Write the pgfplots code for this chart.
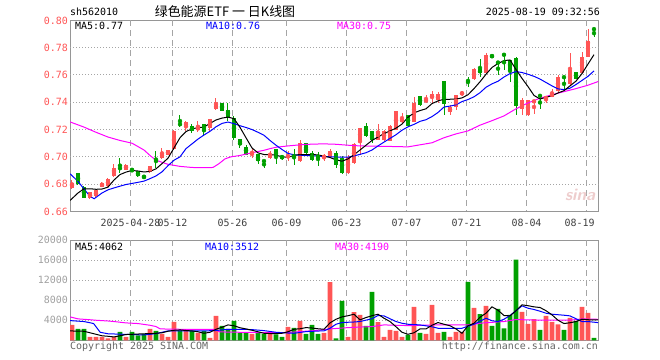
\documentclass[border=0pt]{standalone}
\usepackage{fontspec}
\setmainfont{DejaVu Sans}
\setmonofont{DejaVu Sans Mono}
\newfontfamily\cjk{Noto Sans CJK SC}
\usepackage{pgfplots}
\usepackage{pgfplotstable}
\pgfplotsset{compat=1.18}
\definecolor{kred}{RGB}{255,85,85}
\definecolor{kgreen}{RGB}{0,160,0}
\definecolor{gridc}{RGB}{165,165,165}
\definecolor{framec}{RGB}{150,150,150}
\definecolor{magc}{RGB}{255,0,255}
\definecolor{bluec}{RGB}{0,0,255}
\definecolor{voltick}{RGB}{160,160,160}

\pgfplotstableread{
i o h l c v
0 0.6773 0.6830 0.6766 0.6810 3070
3 0.6695 0.6745 0.6688 0.6741 670
4 0.6712 0.6760 0.6700 0.6756 670
5 0.6780 0.6812 0.6778 0.6810 670
6 0.6785 0.6842 0.6780 0.6839 400
7 0.6863 0.6944 0.6855 0.6915 670
9 0.6907 0.6950 0.6900 0.6937 670
13 0.6888 0.6932 0.6885 0.6932 2270
15 0.6993 0.7066 0.6985 0.7030 1270
16 0.7012 0.7051 0.7010 0.7051 670
17 0.7054 0.7195 0.7050 0.7193 3670
19 0.7225 0.7260 0.7187 0.7255 1870
21 0.7200 0.7260 0.7180 0.7216 1470
23 0.7211 0.7274 0.7190 0.7274 470
24 0.7352 0.7429 0.7345 0.7381 4870
30 0.7012 0.7065 0.6993 0.7029 1270
33 0.6994 0.7046 0.6985 0.7024 1470
36 0.6998 0.7040 0.6968 0.7008 2670
38 0.6968 0.7127 0.6960 0.7102 3870
42 0.6993 0.7022 0.6971 0.7007 1470
43 0.7000 0.7054 0.6993 0.7041 11600
46 0.6883 0.7017 0.6876 0.6998 670
47 0.6956 0.7102 0.6949 0.7095 5600
48 0.7115 0.7212 0.7017 0.7212 5070
51 0.7127 0.7237 0.7120 0.7193 3600
52 0.7125 0.7200 0.7113 0.7186 670
53 0.7113 0.7235 0.7113 0.7228 2070
54 0.7198 0.7339 0.7193 0.7339 1870
55 0.7259 0.7320 0.7247 0.7278 670
57 0.7257 0.7441 0.7252 0.7393 6670
59 0.7402 0.7453 0.7395 0.7422 1270
60 0.7429 0.7483 0.7395 0.7458 7070
61 0.7417 0.7478 0.7395 0.7458 1470
63 0.7325 0.7380 0.7310 0.7368 670
64 0.7368 0.7453 0.7346 0.7453 1670
65 0.7453 0.7485 0.7446 0.7478 1670
67 0.7568 0.7648 0.7560 0.7642 6470
69 0.7612 0.7764 0.7605 0.7747 6870
75 0.7349 0.7430 0.7310 0.7417 5670
76 0.7307 0.7417 0.7300 0.7417 3270
77 0.7397 0.7417 0.7314 0.7417 4200
79 0.7417 0.7446 0.7397 0.7446 4870
80 0.7441 0.7495 0.7436 0.7466 3670
81 0.7485 0.7600 0.7468 0.7583 3200
83 0.7534 0.7759 0.7530 0.7637 4470
85 0.7612 0.7770 0.7612 0.7734 6670
86 0.7734 0.7935 0.7734 0.7852 5470
}\redtab

\pgfplotstableread{
i o h l c v
1 0.6885 0.6885 0.6790 0.6802 2270
2 0.6780 0.6785 0.6695 0.6695 2270
8 0.6918 0.6988 0.6883 0.6915 1670
10 0.6907 0.6920 0.6890 0.6895 1670
11 0.6895 0.6895 0.6850 0.6859 1000
12 0.6859 0.6866 0.6837 0.6849 1270
14 0.6970 0.7046 0.6915 0.6968 1870
18 0.7240 0.7308 0.7216 0.7238 2000
20 0.7223 0.7240 0.7175 0.7192 1870
22 0.7240 0.7240 0.7150 0.7196 1870
25 0.7393 0.7393 0.7335 0.7339 2870
26 0.7344 0.7395 0.7260 0.7291 2270
27 0.7284 0.7296 0.7126 0.7138 3870
28 0.7133 0.7133 0.7062 0.7085 1470
29 0.7075 0.7085 0.7012 0.7017 1600
31 0.7022 0.7022 0.6944 0.6969 1670
32 0.6970 0.6970 0.6920 0.6968 1270
34 0.7055 0.7055 0.6944 0.7000 1200
35 0.7002 0.7017 0.6978 0.6993 670
37 0.7017 0.7054 0.6939 0.6993 2470
39 0.7102 0.7102 0.7005 0.7029 1270
40 0.7027 0.7041 0.6968 0.6978 3070
41 0.7010 0.7037 0.6932 0.6993 1270
44 0.7029 0.7041 0.6919 0.6939 400
45 0.6993 0.7005 0.6876 0.6883 7870
49 0.7224 0.7249 0.7145 0.7151 2870
50 0.7188 0.7188 0.7100 0.7127 9670
56 0.7308 0.7308 0.7228 0.7228 1070
58 0.7446 0.7446 0.7376 0.7381 1470
62 0.7556 0.7556 0.7308 0.7388 1670
66 0.7558 0.7583 0.7514 0.7555 11670
68 0.7642 0.7715 0.7588 0.7612 5200
70 0.7747 0.7750 0.7725 0.7730 2870
71 0.7692 0.7692 0.7600 0.7690 6270
72 0.7749 0.7749 0.7637 0.7747 2400
73 0.7710 0.7710 0.7551 0.7637 5070
74 0.7722 0.7730 0.7307 0.7373 16070
78 0.7448 0.7448 0.7349 0.7446 2070
82 0.7585 0.7585 0.7485 0.7583 2070
84 0.7625 0.7625 0.7570 0.7570 3870
87 0.7937 0.7937 0.7876 0.7935 470
}\greentab

\pgfplotsset{
  every tick label/.append style={font=\ttfamily\fontsize{10}{12}\selectfont},
  kaxis/.style={
    scale only axis, anchor=south west,
    width=528.5bp,
    xmin=-0.333, xmax=87.75,
    axis line style={framec, line width=1bp},
    tick style={draw=none},
    xtick={9.75,16.75,26.75,35.75,45.75,55.75,65.75,75.75,84.6},
    yticklabel style={anchor=east, xshift=-2bp, inner sep=0pt},
    scaled y ticks=false,
  },
}

\begin{document}
\begin{tikzpicture}
\useasboundingbox (0,0) rectangle (660bp,360bp);

\begin{axis}[kaxis,
  at={(70bp,148.6bp)}, height=191bp,
  ymin=0.66, ymax=0.80,
  xticklabels={2025-04-28,05-12,05-26,06-09,06-23,07-07,07-21,08-04,08-19},
  ytick={0.66,0.68,0.70,0.72,0.74,0.76,0.78,0.80},
  yticklabels={0.66,0.68,0.70,0.72,0.74,0.76,0.78,0.80},
  yticklabel style={kred},
  xticklabel style={color=black!75, anchor=north, yshift=-8bp, inner sep=0pt},
]
\pgfplotsinvokeforeach{0.68,0.70,0.72,0.74,0.76,0.78}{
  \draw[draw=gridc, line width=1bp, dash pattern=on 1bp off 2bp] (axis cs:-0.333,#1) -- (axis cs:87.75,#1);}
\pgfplotsinvokeforeach{9.75,16.75,26.75,35.75,45.75,55.75,65.75,75.75,85.75}{
  \draw[draw=gridc, line width=1bp, dash pattern=on 6bp off 4bp] (axis cs:#1,0.80) -- (axis cs:#1,0.66);}

\addplot[kred, only marks, mark=none, error bars/.cd, y dir=both, y explicit, error mark=none,
  error bar style={kred, line width=1bp}]
  table[x=i, y expr=(\thisrow{h}+\thisrow{l})/2, y error expr=(\thisrow{h}-\thisrow{l})/2] {\redtab};
\addplot[kgreen, only marks, mark=none, error bars/.cd, y dir=both, y explicit, error mark=none,
  error bar style={kgreen, line width=1bp}]
  table[x=i, y expr=(\thisrow{h}+\thisrow{l})/2, y error expr=(\thisrow{h}-\thisrow{l})/2] {\greentab};
\addplot[kred, only marks, mark=none, error bars/.cd, y dir=both, y explicit, error mark=none,
  error bar style={kred, line width=4.6bp}]
  table[x=i, y expr=(\thisrow{o}+\thisrow{c})/2, y error expr={max(abs(\thisrow{c}-\thisrow{o})/2,0.0004)}] {\redtab};
\addplot[kgreen, only marks, mark=none, error bars/.cd, y dir=both, y explicit, error mark=none,
  error bar style={kgreen, line width=4.6bp}]
  table[x=i, y expr=(\thisrow{o}+\thisrow{c})/2, y error expr={max(abs(\thisrow{c}-\thisrow{o})/2,0.0004)}] {\greentab};

% MA30
\addplot[magc, line width=1bp] coordinates {
(-0.33,0.7256) (2,0.7218) (4,0.7180) (6,0.7145) (8,0.7120) (10,0.7100) (11,0.7075) (12,0.7050) (13,0.7010) (14,0.6975) (16,0.6945) (18,0.6930) (20,0.6922) (22,0.6920) (23.5,0.6922) (24.5,0.6950) (25.5,0.6985) (26.5,0.7000) (28,0.7010) (30,0.7030) (32,0.7048) (33,0.7060) (34,0.7070) (36,0.7080) (38,0.7088) (40,0.7093) (42,0.7095) (44,0.7092) (46,0.7085) (48,0.7080) (50,0.7078) (52,0.7077) (54,0.7075) (56,0.7073) (58,0.7088) (60,0.7103) (62,0.7140) (64,0.7168) (66,0.7190) (68,0.7232) (70,0.7265) (72,0.7300) (74,0.7352) (76,0.7395) (78,0.7430) (80,0.7455) (82,0.7478) (84,0.7500) (86,0.7525) (87.7,0.7552)};
% MA10
\addplot[bluec, line width=1bp] coordinates {
(-0.33,0.6876) (1,0.6820) (2,0.6765) (3,0.6710) (3.7,0.6693) (5,0.6735) (6,0.6758) (7,0.6772) (8,0.6785) (9,0.6797) (10,0.6805) (11,0.6813) (12,0.6822) (13,0.6840) (14,0.6860) (15,0.6890) (16,0.6935) (17,0.6975) (18,0.7000) (19,0.7060) (20,0.7095) (21,0.7130) (22,0.7160) (23,0.7187) (24,0.7220) (25,0.7245) (26,0.7255) (27,0.7243) (28,0.7228) (29,0.7215) (30,0.7200) (31,0.7180) (32,0.7158) (33,0.7120) (34,0.7085) (35,0.7054) (36,0.7025) (37,0.7015) (38,0.7012) (39,0.7010) (40,0.7008) (41,0.7005) (42,0.7003) (43,0.7000) (44,0.6998) (45,0.6997) (46,0.6997) (47,0.7007) (48,0.7018) (49,0.7030) (50,0.7050) (51,0.7080) (52,0.7108) (53,0.7135) (54,0.7162) (55,0.7195) (56,0.7220) (57,0.7238) (58,0.7260) (59,0.7272) (60,0.7295) (61,0.7325) (62,0.7365) (63,0.7372) (64,0.7381) (65,0.7405) (66,0.7420) (67,0.7440) (68,0.7470) (69,0.7510) (70,0.7535) (71,0.7554) (72,0.7585) (73,0.7610) (74,0.7625) (75,0.7618) (76,0.7605) (77,0.7590) (78,0.7570) (79,0.7545) (80,0.7520) (81,0.7498) (82,0.7493) (83,0.7503) (84,0.7530) (85,0.7560) (86,0.7590) (87,0.7630)};
% MA5
\addplot[black, line width=1bp] coordinates {
(-0.33,0.6680) (1,0.6735) (2,0.6766) (3,0.6766) (4,0.6762) (5,0.6764) (6,0.6778) (7,0.6830) (8,0.6870) (9,0.6888) (10,0.6900) (11,0.6896) (12,0.6889) (13,0.6893) (14,0.6912) (15,0.6950) (16,0.6990) (17,0.7065) (18,0.7140) (19,0.7185) (20,0.7205) (21,0.7214) (22,0.7218) (23,0.7245) (24,0.7270) (25,0.7284) (26,0.7291) (27,0.7280) (28,0.7216) (29,0.7140) (30,0.7065) (31,0.7029) (32,0.7017) (33,0.7017) (34,0.7012) (35,0.7000) (36,0.6997) (37,0.7010) (38,0.7017) (39,0.7017) (40,0.7017) (41,0.7014) (42,0.7005) (43,0.6995) (44,0.6978) (45,0.6968) (46,0.6985) (47,0.7015) (48,0.7050) (49,0.7085) (50,0.7120) (51,0.7145) (52,0.7170) (53,0.7190) (54,0.7210) (55,0.7240) (56,0.7290) (57,0.7322) (58,0.7339) (59,0.7352) (60,0.7390) (61,0.7410) (62,0.7422) (63,0.7422) (64,0.7423) (65,0.7432) (66,0.7455) (67,0.7500) (68,0.7550) (69,0.7605) (70,0.7655) (71,0.7684) (72,0.7705) (73,0.7710) (74,0.7640) (75,0.7575) (76,0.7515) (77,0.7450) (78,0.7424) (79,0.7436) (80,0.7448) (81,0.7468) (82,0.7485) (83,0.7520) (84,0.7555) (85,0.7610) (86,0.7680) (87,0.7749)};
\end{axis}

\begin{axis}[kaxis,
  at={(70bp,19.7bp)}, height=100.3bp,
  ymin=0, ymax=20000,
  xticklabels={},
  ytick={4000,8000,12000,16000,20000},
  yticklabels={4000,8000,12000,16000,20000},
  yticklabel style={voltick},
]
\pgfplotsinvokeforeach{4000,8000,12000,16000}{
  \draw[draw=gridc, line width=1bp, dash pattern=on 1bp off 2bp] (axis cs:-0.333,#1) -- (axis cs:87.75,#1);}
\pgfplotsinvokeforeach{9.75,16.75,26.75,35.75,45.75,55.75,65.75,75.75,85.75}{
  \draw[draw=gridc, line width=1bp, dash pattern=on 6bp off 4bp] (axis cs:#1,20000) -- (axis cs:#1,0);}

\addplot[ybar, bar width=0.8, bar shift=0pt, fill=kred, draw=none] table[x=i, y=v] {\redtab};
\addplot[ybar, bar width=0.8, bar shift=0pt, fill=kgreen, draw=none] table[x=i, y=v] {\greentab};
% MA30
\addplot[magc, line width=1bp] coordinates {
(-0.33,4670) (1,4270) (3,4100) (4,4000) (6,3850) (7,3740) (9,3470) (11,3340) (13,3000) (14,2740) (14.7,2270) (18,2200) (20,2200) (23.6,2200) (24.7,1670) (28,1600) (32,1530) (36,1560) (38,1730) (41,2000) (43,2270) (46,2530) (50,2740) (52,3070) (56,2930) (61,3070) (66,3070) (68.6,3470) (72,3740) (74,4140) (78,4000) (83,4000) (85,4270) (87.7,4190)};
% MA10
\addplot[bluec, line width=1bp] coordinates {
(-0.33,3930) (2,3740) (3,3500) (3.6,3340) (4.7,1600) (6,1300) (8,1220) (10,1150) (12,1070) (14,1330) (16,1870) (18,1870) (20,1870) (22,1870) (24,1950) (26,2200) (28,2200) (30,2130) (32,1930) (34,1600) (36,1450) (37,1400) (39,1730) (41,1850) (42,1870) (43,2400) (44,3200) (45,3540) (47,3650) (48,3740) (50,4300) (51,4940) (52,4870) (53,4300) (54,3740) (55,3400) (56,3200) (58,3070) (60,2700) (61,2400) (63,2400) (65,2400) (66,2800) (67,3200) (68,3800) (69,4400) (70,3900) (71,3740) (72,4200) (73,4940) (74,5900) (75,6870) (76,6400) (77,6140) (78,5800) (79,5400) (80,5200) (81,5100) (82,5000) (83,4870) (84,4300) (85,3740) (86,3740) (87.7,3520)};
% MA5
\addplot[black, line width=1bp] coordinates {
(-0.33,1870) (2,1800) (3,1500) (4,1200) (5,900) (6,800) (7,670) (8,900) (9,1150) (10,1200) (11,1250) (12,1300) (13,1330) (14,1400) (15,1500) (16,1800) (17,2000) (18,2070) (19,1950) (20,1870) (21,1700) (22,1400) (23,1600) (24,2200) (25,2600) (26,3070) (27,2900) (28,2500) (29,2270) (30,2000) (31,1700) (32,1400) (33,1350) (34,1330) (35,1400) (36,1700) (37,2200) (38,2300) (39,2530) (40,2450) (41,2300) (42,2200) (43,3470) (44,4200) (45,4670) (46,4900) (47,5200) (48,4070) (49,4540) (50,4900) (51,5200) (52,4400) (53,3740) (54,2700) (55,1600) (56,1200) (57,1500) (58,2270) (59,2270) (60,3000) (61,3540) (62,3200) (63,2900) (64,2270) (65,1400) (66,2900) (67,3400) (68,4600) (69,5400) (70,6670) (71,6000) (72,4940) (73,4870) (74,5900) (75,7070) (76,6900) (77,6670) (78,6540) (79,5900) (80,5070) (81,4000) (82,3340) (83,3500) (84,3740) (85,4200) (86,4100) (87.7,4062)};
\end{axis}

% header texts
\node[anchor=west, inner sep=0pt, font=\ttfamily\fontsize{10}{12}\selectfont] at (70bp,348bp) {sh562010};
\node[anchor=center, inner sep=0pt, font=\cjk\fontsize{13}{15}\selectfont] at (225bp,348bp) {绿色能源ETF 一 日K线图};
\node[anchor=east, inner sep=0pt, font=\ttfamily\fontsize{10}{12}\selectfont] at (600bp,348bp) {2025-08-19 09:32:56};
% MA labels price
\node[anchor=west, inner sep=0pt, font=\ttfamily\fontsize{10}{12}\selectfont, text=black] at (75bp,334bp) {MA5:0.77};
\node[anchor=west, inner sep=0pt, font=\ttfamily\fontsize{10}{12}\selectfont, text=bluec] at (206bp,334bp) {MA10:0.76};
\node[anchor=west, inner sep=0pt, font=\ttfamily\fontsize{10}{12}\selectfont, text=magc] at (337bp,334bp) {MA30:0.75};
% MA labels volume
\node[anchor=west, inner sep=0pt, font=\ttfamily\fontsize{10}{12}\selectfont, text=black] at (75bp,113bp) {MA5:4062};
\node[anchor=west, inner sep=0pt, font=\ttfamily\fontsize{10}{12}\selectfont, text=bluec] at (205bp,113bp) {MA10:3512};
\node[anchor=west, inner sep=0pt, font=\ttfamily\fontsize{10}{12}\selectfont, text=magc] at (335bp,113bp) {MA30:4190};
% footer
\node[anchor=west, inner sep=0pt, font=\ttfamily\fontsize{10}{12}\selectfont, text=black!60] at (70bp,13bp) {Copyright 2025 SINA.COM};
\node[anchor=east, inner sep=0pt, font=\ttfamily\fontsize{10}{12}\selectfont, text=black!60] at (598bp,13bp) {http://finance.sina.com.cn};
% watermark
\node[inner sep=0pt, font=\sffamily\bfseries\itshape\fontsize{17}{18}\selectfont, text={rgb,255:red,238;green,205;blue,205}] at (580bp,165bp) {sina};
\end{tikzpicture}
\end{document}
